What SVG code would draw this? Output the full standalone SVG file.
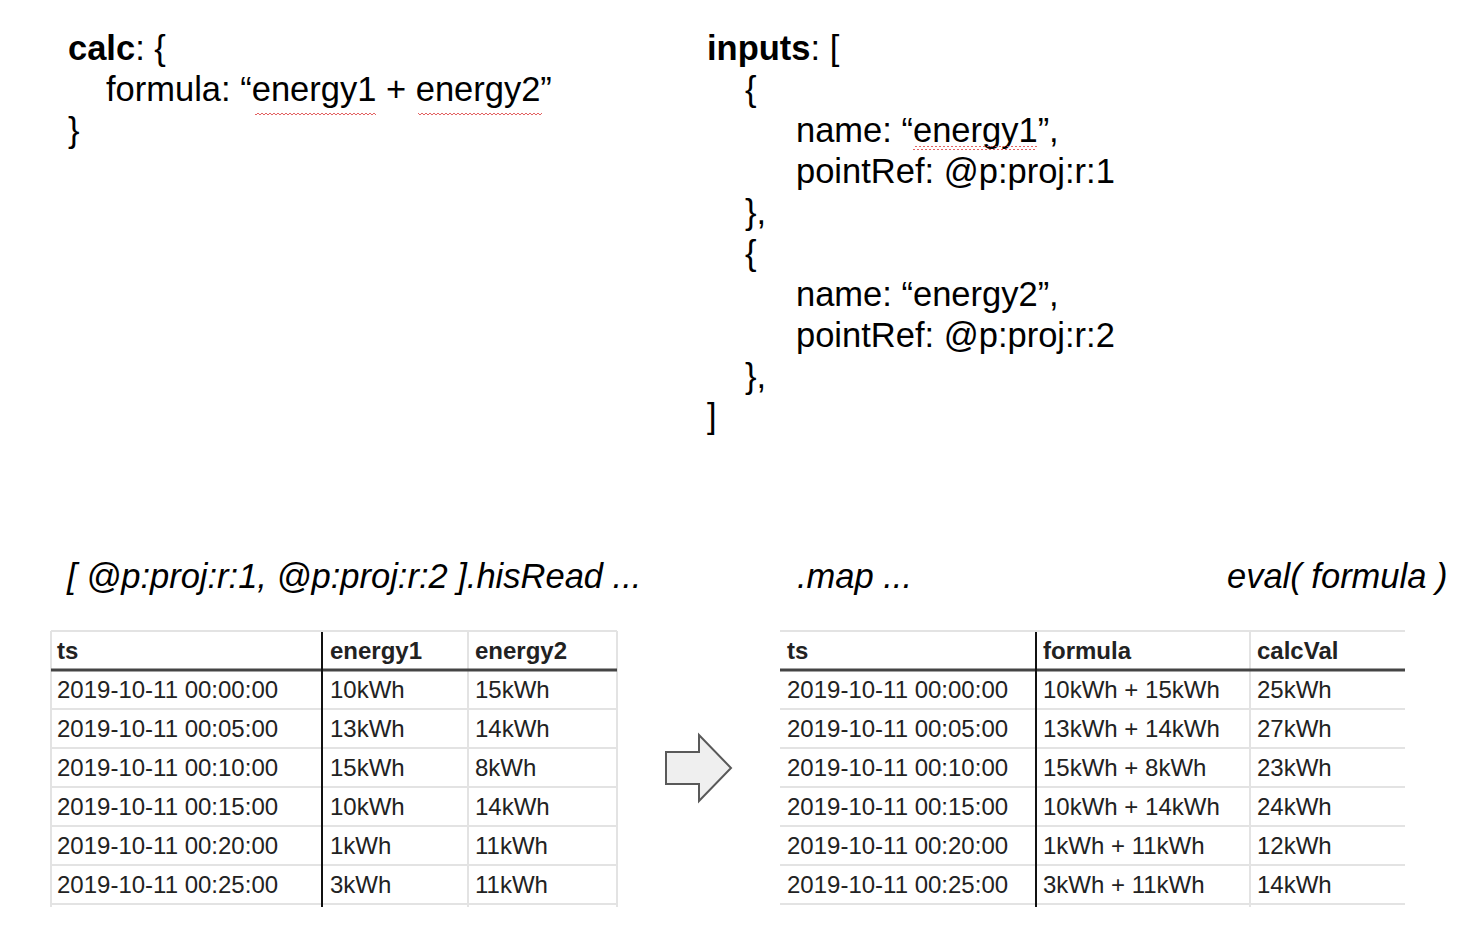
<svg xmlns="http://www.w3.org/2000/svg" width="1478" height="932" viewBox="0 0 1478 932">
<style>
.code{font-family:"Liberation Sans",Arial,sans-serif;font-size:34.5px;fill:#000}
.b{font-weight:bold}
.lbl{font-family:"Liberation Sans",Arial,sans-serif;font-size:34.5px;font-style:italic;fill:#000}
.cell{font-family:"Liberation Sans",Arial,sans-serif;font-size:24px;fill:#222}
.hdr{font-family:"Liberation Sans",Arial,sans-serif;font-size:24px;font-weight:bold;fill:#222}
.grid{stroke:#e3e3e3;stroke-width:2;fill:none}
.dark{stroke:#111;stroke-width:2;fill:none}
.hline{stroke:#444;stroke-width:3;fill:none}
</style>
<defs>
<pattern id="sq" width="4" height="4" patternUnits="userSpaceOnUse">
<path d="M0 3 L2 1 L4 3" stroke="#e05050" stroke-width="0.9" fill="none"/>
</pattern>
</defs>
<rect width="1478" height="932" fill="#fff"/>

<g id="calc-block">
<text class="code" x="68" y="60"><tspan class="b">calc</tspan>: {</text>
<text class="code" x="106" y="101">formula: “energy1 + energy2”</text>
<text class="code" x="68" y="142">}</text>
<rect x="255" y="113" width="121" height="4" fill="url(#sq)"/>
<rect x="418" y="113" width="124" height="4" fill="url(#sq)"/>
</g>

<g id="inputs-block">
<text class="code" x="707" y="60"><tspan class="b">inputs</tspan>: [</text>
<text class="code" x="745" y="101">{</text>
<text class="code" x="796" y="142">name: “energy1”,</text>
<text class="code" x="796" y="183">pointRef: @p:proj:r:1</text>
<text class="code" x="745" y="224">},</text>
<text class="code" x="745" y="265">{</text>
<text class="code" x="796" y="306">name: “energy2”,</text>
<text class="code" x="796" y="347">pointRef: @p:proj:r:2</text>
<text class="code" x="745" y="388">},</text>
<text class="code" x="707" y="428">]</text>
<rect x="913" y="146" width="124" height="4" fill="url(#sq)"/>
</g>

<g id="labels">
<text class="lbl" x="67" y="588">[ @p:proj:r:1, @p:proj:r:2 ].hisRead ...</text>
<text class="lbl" x="797" y="588">.map ...</text>
<text class="lbl" x="1227" y="588">eval( formula )</text>
</g>

<g id="table-input">
<path class="grid" d="M51 631 H617 M51 709 H617 M51 748 H617 M51 787 H617 M51 826 H617 M51 865 H617 M51 904 H617 M51 631 V907 M468 631 V907 M617 631 V907"/>
<path class="hline" d="M51 670 H617"/>
<path class="dark" d="M322 632 V907"/>
<text class="hdr" x="57" y="659">ts</text>
<text class="hdr" x="330" y="659">energy1</text>
<text class="hdr" x="475" y="659">energy2</text>
<text class="cell" x="57" y="698">2019-10-11 00:00:00</text>
<text class="cell" x="57" y="737">2019-10-11 00:05:00</text>
<text class="cell" x="57" y="776">2019-10-11 00:10:00</text>
<text class="cell" x="57" y="815">2019-10-11 00:15:00</text>
<text class="cell" x="57" y="854">2019-10-11 00:20:00</text>
<text class="cell" x="57" y="893">2019-10-11 00:25:00</text>
<text class="cell" x="330" y="698">10kWh</text>
<text class="cell" x="330" y="737">13kWh</text>
<text class="cell" x="330" y="776">15kWh</text>
<text class="cell" x="330" y="815">10kWh</text>
<text class="cell" x="330" y="854">1kWh</text>
<text class="cell" x="330" y="893">3kWh</text>
<text class="cell" x="475" y="698">15kWh</text>
<text class="cell" x="475" y="737">14kWh</text>
<text class="cell" x="475" y="776">8kWh</text>
<text class="cell" x="475" y="815">14kWh</text>
<text class="cell" x="475" y="854">11kWh</text>
<text class="cell" x="475" y="893">11kWh</text>
</g>

<g id="connectors">
<path d="M666 752 H699 V735 L731 768 L699 801 V784 H666 Z" fill="#efefef" stroke="#595959" stroke-width="2" stroke-linejoin="miter"/>
</g>

<g id="table-output">
<path class="grid" d="M780 631 H1405 M780 709 H1405 M780 748 H1405 M780 787 H1405 M780 826 H1405 M780 865 H1405 M780 904 H1405 M1250 631 V907"/>
<path class="hline" d="M780 670 H1405"/>
<path class="dark" d="M1036 632 V907"/>
<text class="hdr" x="787" y="659">ts</text>
<text class="hdr" x="1043" y="659">formula</text>
<text class="hdr" x="1257" y="659">calcVal</text>
<text class="cell" x="787" y="698">2019-10-11 00:00:00</text>
<text class="cell" x="787" y="737">2019-10-11 00:05:00</text>
<text class="cell" x="787" y="776">2019-10-11 00:10:00</text>
<text class="cell" x="787" y="815">2019-10-11 00:15:00</text>
<text class="cell" x="787" y="854">2019-10-11 00:20:00</text>
<text class="cell" x="787" y="893">2019-10-11 00:25:00</text>
<text class="cell" x="1043" y="698">10kWh + 15kWh</text>
<text class="cell" x="1043" y="737">13kWh + 14kWh</text>
<text class="cell" x="1043" y="776">15kWh + 8kWh</text>
<text class="cell" x="1043" y="815">10kWh + 14kWh</text>
<text class="cell" x="1043" y="854">1kWh + 11kWh</text>
<text class="cell" x="1043" y="893">3kWh + 11kWh</text>
<text class="cell" x="1257" y="698">25kWh</text>
<text class="cell" x="1257" y="737">27kWh</text>
<text class="cell" x="1257" y="776">23kWh</text>
<text class="cell" x="1257" y="815">24kWh</text>
<text class="cell" x="1257" y="854">12kWh</text>
<text class="cell" x="1257" y="893">14kWh</text>
</g>
</svg>
